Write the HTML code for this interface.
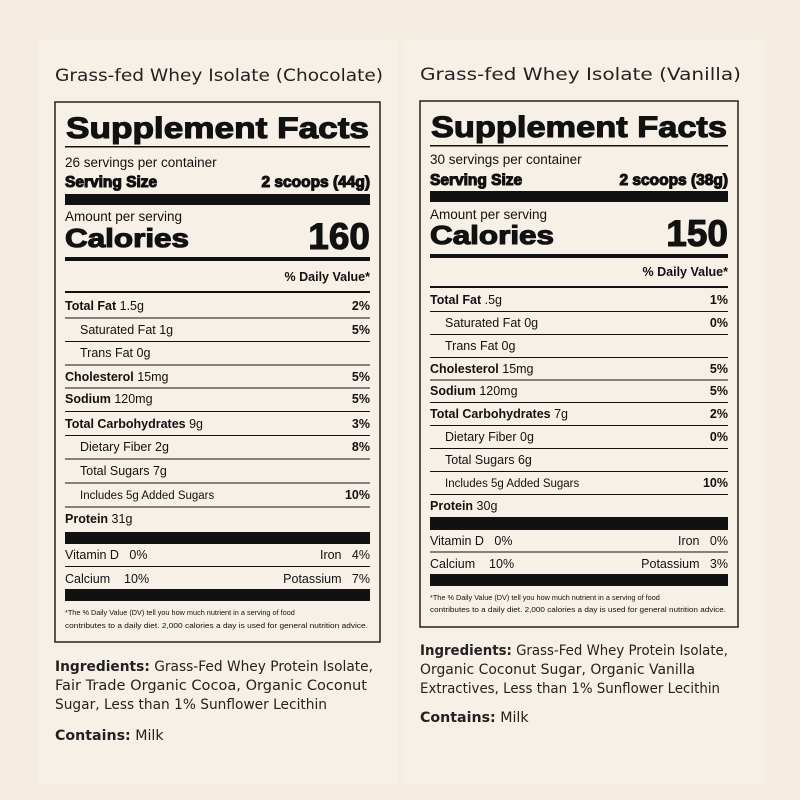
<!DOCTYPE html>
<html><head><meta charset="utf-8"><style>
html,body{margin:0;padding:0;background:#f6eee3;}
svg{display:block}
text{font-family:"Liberation Sans",Arial,sans-serif;fill:#111}
.h{font-family:"DejaVu Sans","Liberation Sans",sans-serif;fill:#222}
.k{stroke:#111;stroke-width:1.1}
</style></head><body>
<svg id="s" width="800" height="800" viewBox="0 0 800 800" xmlns="http://www.w3.org/2000/svg">
<rect width="800" height="800" fill="#f5ede2"/>
<rect x="38" y="40" width="360" height="745" fill="#f7f0e6"/>
<rect x="405" y="40" width="360" height="745" fill="#f7f0e6"/>
</svg>
<script>
var s=document.getElementById('s'),out='';
function T(x,y,t,o){o=o||{};out+='<text x="'+x+'" y="'+y+'" font-size="'+(o.fs||12.5)+'"'+(o.b?' font-weight="bold"':'')+(o.a?' text-anchor="'+o.a+'"':'')+(o.tl?' textLength="'+o.tl+'" lengthAdjust="spacingAndGlyphs"':'')+(o.c?' class="'+o.c+'"':'')+'>'+t+'</text>';}
function R(x,y,w,h){out+='<rect x="'+x+'" y="'+y+'" width="'+w+'" height="'+h+'" fill="#111"/>';}
function panel(P){
 var L=P.x0,Rr=P.x1,x=L+10,xr=Rr-10,w=xr-x;
 out+='<rect x="'+L+'" y="'+P.y0+'" width="'+(Rr-L)+'" height="'+(P.y1-P.y0)+'" fill="none" stroke="#222" stroke-width="1.5"/>';
 T(L,P.hy,P.head,{fs:17,c:'h',tl:Rr-L+3});
 T(x+1,P.t+11,'Supplement Facts',{fs:30,b:1,tl:w-2,c:'k'});
 R(x,P.t+19,w,1.5);
 T(x,P.sv+5,P.servings,{fs:13.5});
 T(x,P.ss+6,'Serving Size',{fs:15.5,b:1,c:'k'});
 T(xr,P.ss+6,P.size,{fs:15.5,b:1,a:'end',c:'k'});
 R(x,P.bar1,w,11);
 T(x,P.am+5,'Amount per serving',{fs:13.5});
 T(x,P.cal+10,'Calories',{fs:26,b:1,tl:124,c:'k'});
 T(xr,P.cal+12,P.calv,{fs:37,b:1,a:'end',c:'k'});
 R(x,P.bar2,w,4);
 T(xr,P.dv+4,'% Daily Value*',{fs:12.5,b:1,a:'end'});
 R(x,P.dv+14,w,2);
 var rows=P.rows;
 for(var i=0;i<rows.length;i++){var r=rows[i],y=r[0];
  var ind=r[4]?x+15:x;
  if(r[1]) out+='<text x="'+ind+'" y="'+(y+4)+'" font-size="12.5"><tspan font-weight="bold">'+r[1]+'</tspan> '+r[2]+'</text>';
  else T(ind,y+4,r[2],{fs:r[5]?11.5:12.5});
  if(r[3])T(xr,y+4,r[3],{b:1,a:'end'});
  if(i<rows.length-1){var ny=rows[i+1][0];R(x,(y+ny)/2-0.5,w,1);}
 }
 R(x,P.pb[0],w,P.pb[1]-P.pb[0]);
 T(x,P.v1+5,'Vitamin D&#160;&#160;&#160;0%',{});T(xr,P.v1+5,P.iron,{a:'end'});
 R(x,(P.v1+P.v2)/2,w,1);
 T(x,P.v2+5,'Calcium&#160;&#160;&#160;&#160;10%',{});T(xr,P.v2+5,P.pot,{a:'end'});
 R(x,P.pb2[0],w,P.pb2[1]-P.pb2[0]);
 T(x,P.f1+3,'*The % Daily Value (DV) tell you how much nutrient in a serving of food',{fs:7.3});
 T(x,P.f2+3,'contributes to a daily diet. 2,000 calories a day is used for general nutrition advice.',{fs:7.3,tl:w-2});
 for(var j=0;j<P.ing.length;j++){var g=P.ing[j];
  out+='<text class="h" x="'+L+'" y="'+g[0]+'" font-size="14.2"'+(g[3]?' textLength="'+g[3]+'" lengthAdjust="spacingAndGlyphs"':'')+'>'+(g[1]?'<tspan font-weight="bold">'+g[1]+'</tspan> ':'')+g[2]+'</text>';}
}
panel({x0:55,x1:380,y0:102,y1:642,hy:81,head:'Grass-fed Whey Isolate (Chocolate)',t:127,sv:162,servings:'26 servings per container',ss:181,size:'2 scoops (44g)',bar1:194,am:216,cal:237,calv:'160',bar2:257,dv:277,
 rows:[[306,'Total Fat','1.5g','2%'],[330,'','Saturated Fat 1g','5%',1],[353,'','Trans Fat 0g','',1],[377,'Cholesterol','15mg','5%'],[399,'Sodium','120mg','5%'],[424,'Total Carbohydrates','9g','3%'],[447,'','Dietary Fiber 2g','8%',1],[471,'','Total Sugars 7g','',1],[495,'','Includes 5g Added Sugars','10%',1,1],[519,'Protein','31g','']],
 pb:[532,544],v1:554,v2:578,iron:'Iron&#160;&#160;&#160;4%',pot:'Potassium&#160;&#160;&#160;7%',pb2:[589,601],f1:612,f2:625,
 ing:[[671,'Ingredients:','Grass-Fed Whey Protein Isolate,',318],[690,'','Fair Trade Organic Cocoa, Organic Coconut',312],[709,'','Sugar, Less than 1% Sunflower Lecithin',272],[740,'Contains:','Milk']]});
panel({x0:420,x1:738,y0:101,y1:627,hy:80,head:'Grass-fed Whey Isolate (Vanilla)',t:126,sv:159,servings:'30 servings per container',ss:179,size:'2 scoops (38g)',bar1:191,am:214,cal:234,calv:'150',bar2:254,dv:272,
 rows:[[300,'Total Fat','.5g','1%'],[323,'','Saturated Fat 0g','0%',1],[346,'','Trans Fat 0g','',1],[369,'Cholesterol','15mg','5%'],[391,'Sodium','120mg','5%'],[414,'Total Carbohydrates','7g','2%'],[437,'','Dietary Fiber 0g','0%',1],[460,'','Total Sugars 6g','',1],[483,'','Includes 5g Added Sugars','10%',1,1],[506,'Protein','30g','']],
 pb:[517,530],v1:540,v2:563,iron:'Iron&#160;&#160;&#160;0%',pot:'Potassium&#160;&#160;&#160;3%',pb2:[574,586],f1:597,f2:609,
 ing:[[655,'Ingredients:','Grass-Fed Whey Protein Isolate,',308],[674,'','Organic Coconut Sugar, Organic Vanilla',275],[693,'','Extractives, Less than 1% Sunflower Lecithin',300],[722,'Contains:','Milk']]});
s.insertAdjacentHTML('beforeend',out);
</script>
</body></html>
